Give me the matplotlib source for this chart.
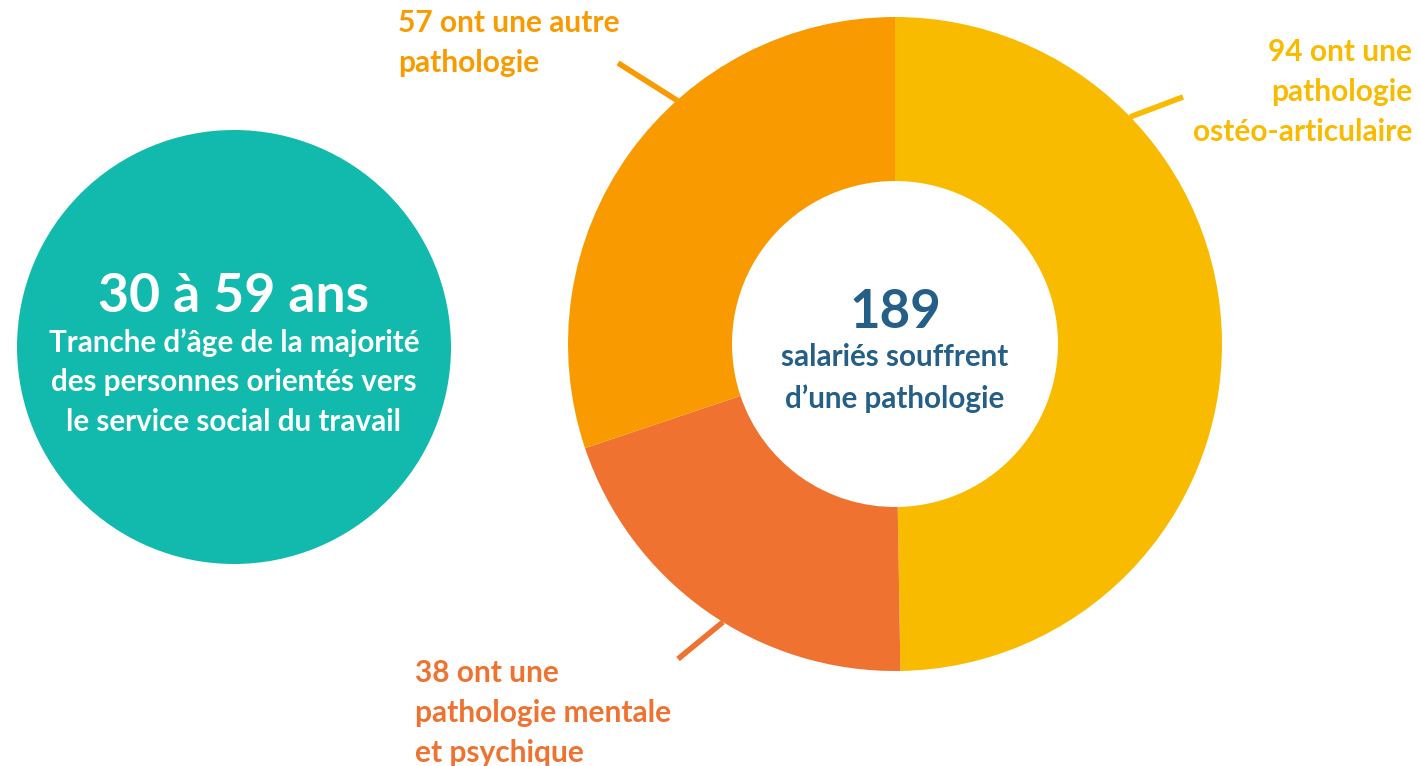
import matplotlib
matplotlib.use("Agg")
import matplotlib.pyplot as plt

# donut data
counts = [94, 38, 57]
slice_colors = ["#F9BB00", "#EF7230", "#F99B00"]
labels = ["94 ont une\npathologie\nostéo-articulaire",
          "38 ont une\npathologie mentale\net psychique",
          "57 ont une autre\npathologie"]
total = sum(counts)
center_sub = "salariés souffrent\nd\u2019une pathologie"

# left bubble
age_title = "30 à 59 ans"
age_text = "Tranche d\u2019âge de la majorité\ndes personnes orientés vers\nle service social du travail"

plt.rcParams['font.family'] = ['Lato', 'DejaVu Sans']
H = 766

fig = plt.figure(figsize=(14.2, 7.66), dpi=100)
ax = fig.add_axes([0, 0, 1, 1])
ax.set_xlim(0, 1420)
ax.set_ylim(0, H)
ax.set_aspect('equal')
ax.axis('off')

# teal circle
ax.add_patch(plt.Circle((234, H - 347), 217, color="#12BAAE", lw=0))
ax.text(234, H - 296, age_title, ha='center', va='center', color='white',
        fontsize=38.5, fontweight='bold')
ax.text(234, H - 382, age_text, ha='center', va='center', color='white',
        fontsize=21.3, fontweight='bold', linespacing=1.5)

# donut
cx, cy, r = 895, H - 344, 327
ax.pie(counts, colors=slice_colors, startangle=90, counterclock=False,
       center=(cx, cy), radius=r, wedgeprops=dict(width=r - 163, lw=0),
       frame=True)
ax.set_xlim(0, 1420)
ax.set_ylim(0, H)
ax.axis('off')

ax.text(cx, H - 313, str(total), ha='center', va='center', color="#255E86",
        fontsize=38, fontweight='bold')
ax.text(cx, H - 378, center_sub, ha='center', va='center', color="#255E86",
        fontsize=21.3, fontweight='bold', linespacing=1.52)

# leader lines + labels
ax.plot([1130, 1183], [H - 117, H - 97], color=slice_colors[0], lw=4, solid_capstyle='butt')
ax.plot([678, 723], [H - 659, H - 622], color=slice_colors[1], lw=4, solid_capstyle='butt')
ax.plot([618, 678], [H - 63, H - 101], color=slice_colors[2], lw=4, solid_capstyle='butt')

ax.text(1412, H - 92, labels[0], ha='right', va='center', color=slice_colors[0],
        fontsize=21.5, fontweight='bold', linespacing=1.52)
ax.text(415, H - 713, labels[1], ha='left', va='center', color=slice_colors[1],
        fontsize=21.5, fontweight='bold', linespacing=1.52)
ax.text(398, H - 43, labels[2], ha='left', va='center', color=slice_colors[2],
        fontsize=21.5, fontweight='bold', linespacing=1.52)

fig.savefig("out.png", dpi=100)
